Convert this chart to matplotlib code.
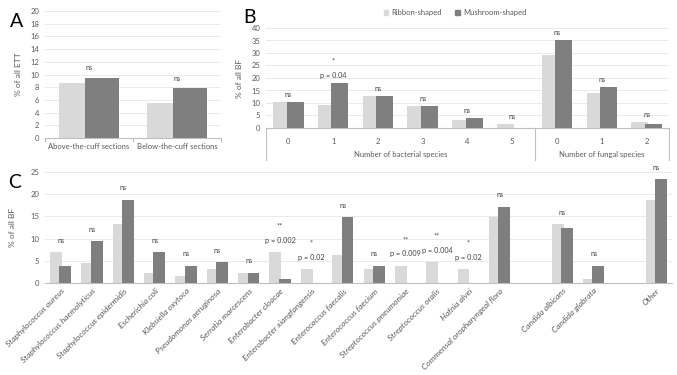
import numpy as np
import matplotlib.pyplot as plt
from matplotlib.transforms import blended_transform_factory
from matplotlib.patches import Patch

plt.rcParams['font.family'] = ['Lato', 'DejaVu Sans']

# --------------------------
# Data
# --------------------------

series_names = ['Ribbon-shaped', 'Mushroom-shaped']

# Panel A
a_categories = ['Above-the-cuff sections', 'Below-the-cuff sections']
a_ribbon = [8.6, 5.5]
a_mushroom = [9.4, 7.8]
a_labels = ['ns', 'ns']

# Panel B
b_categories = ['0', '1', '2', '3', '4', '5', '0', '1', '2']
b_groups = ['Number of bacterial species', 'Number of fungal species']
b_group_sizes = [6, 3]
b_ribbon = [10.2, 9.3, 12.6, 8.6, 3.1, 1.6, 29.0, 14.1, 2.3]
b_mushroom = [10.2, 18.0, 12.6, 8.6, 3.9, 0.0, 35.2, 16.5, 1.5]
b_labels = ['ns', '*\np = 0.04', 'ns', 'ns', 'ns', 'ns', 'ns', 'ns', 'ns']

# Panel C (empty names are the blank slots in the original)
c_categories = ['Staphylococcus aureus', 'Staphylococcus haemolyticus',
                'Staphylococcus epidermidis', 'Escherichia coli',
                'Klebsiella oxytoca', 'Pseudomonas aeruginosa',
                'Serratia marcescens', 'Enterobacter cloacae',
                'Enterobacter xiangfangensis', 'Enterococcus faecalis',
                'Enterococcus faecium', 'Streptococcus pneumoniae',
                'Streptococcus oralis', 'Hafnia alvei',
                'Commensal oropharyngeal flora', '',
                'Candida albicans', 'Candida glabrata', '', 'Other']
c_ribbon = [7.0, 4.6, 13.3, 2.3, 1.5, 3.1, 2.3, 7.0, 3.1, 6.2,
            3.1, 3.9, 4.7, 3.1, 14.8, np.nan, 13.3, 0.8, np.nan, 18.8]
c_mushroom = [3.9, 9.4, 18.8, 7.0, 3.9, 4.7, 2.3, 0.8, 0.0, 14.9,
              3.9, 0.0, 0.0, 0.0, 17.2, np.nan, 12.5, 3.9, np.nan, 23.4]
c_labels = ['ns', 'ns', 'ns', 'ns', 'ns', 'ns', 'ns', '**\np = 0.002',
            '*\np = 0.02', 'ns', 'ns', '**\np = 0.009', '**\np = 0.004',
            '*\np = 0.02', 'ns', '', 'ns', 'ns', '', 'ns']

# --------------------------
# Style
# --------------------------

light = '#d9d9d9'
dark = '#7f7f7f'
grid_c = '#e7e7e7'
axis_c = '#bfbfbf'
text_c = '#595959'
width = 0.38
offset = 0.15

W, H = 677, 375
fig = plt.figure(figsize=(W / 100, H / 100), dpi=100)


def px_axes(left, top, right, bottom):
    return fig.add_axes([left / W, 1 - bottom / H, (right - left) / W, (bottom - top) / H])


def style(ax, ymax, step):
    ax.set_ylim(0, ymax)
    ax.set_yticks(np.arange(0, ymax + 0.1, step))
    ax.grid(axis='y', color=grid_c, linewidth=0.6)
    ax.set_axisbelow(True)
    for s in ['top', 'right', 'left']:
        ax.spines[s].set_visible(False)
    ax.spines['bottom'].set_color(axis_c)
    ax.spines['bottom'].set_linewidth(0.8)
    ax.tick_params(axis='y', length=0, labelsize=5.5, labelcolor=text_c, pad=4)
    ax.tick_params(axis='x', length=0, labelsize=5.5, labelcolor=text_c)


def bars(ax, ribbon, mushroom, labels, pad):
    x = np.arange(len(ribbon))
    ax.bar(x - offset, ribbon, width, color=light, zorder=2)
    ax.bar(x + offset, mushroom, width, color=dark, zorder=3)
    for xi, r, m, lab in zip(x, ribbon, mushroom, labels):
        if not lab:
            continue
        top = np.nanmax([r, m])
        ax.annotate(lab, (xi, top), xytext=(0, pad), textcoords='offset points',
                    ha='center', va='bottom', fontsize=5.2, color='#404040',
                    linespacing=2.2)
    ax.set_xlim(-0.5, len(ribbon) - 0.5)
    return x


# --------------------------
# Panel A
# --------------------------

axA = px_axes(45, 11, 221, 138)
style(axA, 20, 2)
xa = bars(axA, a_ribbon, a_mushroom, a_labels, 5)
axA.set_xticks(xa)
axA.set_xticklabels(a_categories, fontsize=5.5)
axA.set_xticks(np.arange(-0.5, len(xa)), minor=True)
axA.tick_params(axis='x', which='minor', length=3, color=axis_c, width=0.8)
axA.set_ylabel('% of all ETT', fontsize=6, color=text_c)
axA.yaxis.set_label_coords(-0.13, 0.5)

# --------------------------
# Panel B
# --------------------------

axB = px_axes(266, 28, 669, 128)
style(axB, 40, 5)
xb = bars(axB, b_ribbon, b_mushroom, b_labels, 3)
axB.set_xticks(xb)
axB.set_xticklabels(b_categories, fontsize=5.5)
axB.tick_params(axis='x', pad=7)
axB.set_ylabel('% of all BF', fontsize=6, color=text_c)
axB.yaxis.set_label_coords(-0.057, 0.5)

trans = blended_transform_factory(axB.transData, axB.transAxes)
edges = np.concatenate([[0], np.cumsum(b_group_sizes)]) - 0.5
for e in edges:
    axB.plot([e, e], [0, -0.32], color=axis_c, linewidth=0.8,
             transform=trans, clip_on=False)
for g, lo, hi in zip(b_groups, edges[:-1], edges[1:]):
    axB.text((lo + hi) / 2, -0.27, g, transform=trans, ha='center', va='center',
             fontsize=5.5, color=text_c)

fig.legend(handles=[Patch(color=light), Patch(color=dark)], labels=series_names,
           loc='center', bbox_to_anchor=(455 / W, 1 - 13 / H), ncol=2,
           frameon=False, fontsize=5.5, handlelength=0.6, handleheight=0.6,
           handletextpad=0.4, columnspacing=1.8, labelcolor=text_c)

# --------------------------
# Panel C
# --------------------------

axC = px_axes(45, 172, 672, 283)
style(axC, 25, 5)
xc = bars(axC, c_ribbon, c_mushroom, c_labels, 6)
axC.set_xticks(xc)
axC.set_xticklabels(c_categories, rotation=45, ha='right', rotation_mode='anchor',
                    fontsize=6, style='italic')
axC.tick_params(axis='x', pad=3)
axC.set_ylabel('% of all BF', fontsize=6, color=text_c)
axC.yaxis.set_label_coords(-0.046, 0.5)

# Panel letters
for letter, (px, py) in zip('ABC', [(10, 27), (243, 23), (8, 188)]):
    fig.text(px / W, 1 - py / H, letter, fontsize=14, color='black',
             ha='left', va='baseline')

fig.savefig('out.png', dpi=100)
